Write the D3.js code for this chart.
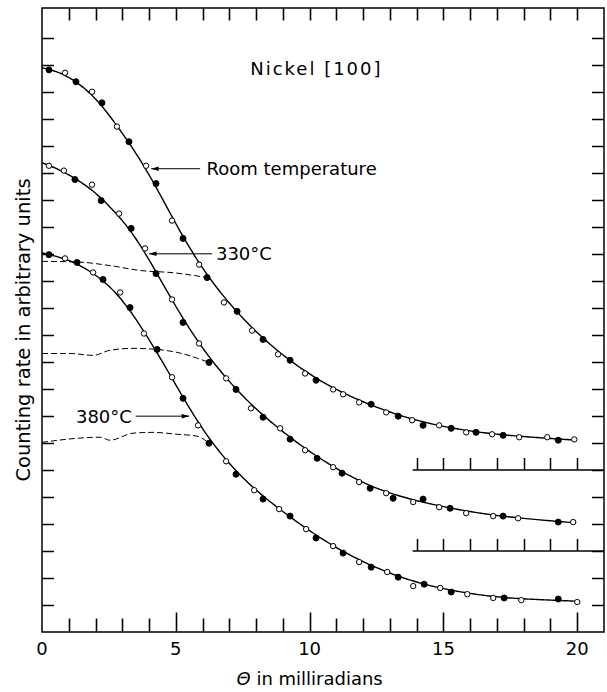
<!DOCTYPE html>
<html lang="en">
<head>
    <meta charset="UTF-8">
    <title>Nickel [100] channeling dips</title>
    <script src="https://d3js.org/d3.v7.min.js"></script>
    <style>
        body { margin: 0; background: #fff; }
        svg { display: block; }
        text {
            font-family: "DejaVu Sans", sans-serif;
            font-size: 18px;
            fill: #000;
        }
        .curve { fill: none; stroke: #000; stroke-width: 1.4px; }
        .bg { fill: none; stroke: #000; stroke-width: 1px; stroke-dasharray: 6 3; }
        .arrow { stroke: #000; stroke-width: 1px; marker-end: url(#head); }
        .frame { fill: none; stroke: #000; stroke-width: 1.5px; }
        .xtk { fill: none; stroke: #000; stroke-width: 1.6px; }
    </style>
</head>
<body>
<svg width="607" height="692"></svg>
<script>
// angle in milliradians, counting rate in arbitrary units (above each curve's own zero)
const rtTheta = [0.26,0.86,1.27,1.87,2.24,2.80,3.25,3.89,4.26,4.86,5.27,5.87,6.17,6.80,7.29,7.85,8.26,8.82,9.27,9.83,
                 10.24,10.88,11.25,11.85,12.30,12.86,13.31,13.83,14.24,14.84,15.29,15.85,16.22,16.82,17.23,17.83,18.88,19.29,19.89];
const rtRate  = [14.81,14.70,14.37,14.00,13.59,12.71,12.15,11.26,10.60,9.23,8.57,7.60,7.12,6.20,5.87,5.16,4.83,4.28,4.06,3.57,
                 3.32,2.98,2.80,2.50,2.43,2.13,1.99,1.84,1.65,1.65,1.54,1.39,1.39,1.32,1.28,1.21,1.21,1.10,1.13];
const rtFilled = [1,0,1,0,1,0,1,0,1,0,1,0,1,0,1,0,1,0,1,0,1,0,0,0,1,0,1,0,1,0,1,0,1,0,1,0,0,1,0];

const t330Theta = [0.26,0.82,1.23,1.87,2.21,2.88,3.33,3.85,4.26,4.86,5.27,5.87,6.24,6.88,7.25,7.81,8.26,8.90,9.27,9.83,
                   10.28,10.88,11.21,11.85,12.26,12.86,13.12,13.87,14.24,14.84,15.25,15.85,16.86,17.23,17.79,19.29,19.85];
const t330Rate  = [14.26,14.08,13.75,13.56,12.97,12.49,11.94,11.20,10.27,9.31,8.46,7.68,6.98,6.39,5.98,5.28,4.95,4.54,4.14,3.73,
                   3.43,3.10,2.88,2.55,2.32,2.14,1.95,1.81,1.92,1.62,1.58,1.40,1.29,1.29,1.21,1.07,1.07];
const t330Filled = [0,0,1,0,1,0,1,0,1,0,1,0,1,0,1,0,1,0,1,0,1,0,1,0,1,0,1,0,1,0,1,0,0,1,0,1,0];

const t380Theta = [0.26,0.86,1.31,1.91,2.28,2.92,3.29,3.81,4.30,4.86,5.27,5.83,6.24,6.88,7.25,7.93,8.26,8.86,9.27,9.87,
                   10.24,10.88,11.25,11.85,12.30,12.90,13.31,13.87,14.28,14.88,15.29,15.89,16.86,17.27,17.91,19.29,20.00];
const t380Rate  = [13.97,13.83,13.68,13.31,13.05,12.57,12.01,11.05,10.46,9.43,8.65,7.65,6.99,6.32,5.84,5.25,4.92,4.55,4.29,3.81,
                   3.48,3.18,2.92,2.59,2.40,2.22,2.03,1.70,1.77,1.63,1.48,1.40,1.26,1.26,1.18,1.22,1.11];
const t380Filled = [1,0,1,0,1,0,1,0,1,0,1,0,1,0,1,0,1,0,1,0,1,0,1,0,1,0,1,0,1,0,1,0,0,1,0,1,0];

// dashed random (background) levels
const rtBgTheta = [0,1.3,2.5,3.7,4.9,6.17];
const rtBgRate  = [7.72,7.70,7.57,7.38,7.30,7.12];
const t330BgTheta = [0,1.05,1.91,2.54,3.40,4.30,5.05,6.24];
const t330BgRate  = [7.31,7.31,7.24,7.43,7.50,7.46,7.35,6.98];
const t380BgTheta = [0,1.31,2.17,2.54,3.40,4.15,5.05,5.79,6.24];
const t380BgRate  = [7.02,7.17,7.21,7.10,7.36,7.39,7.32,7.25,6.99];

const curveNames = ["Room temperature", "330°C", "380°C"];
const curveOffsets = [6, 3, 0];   // vertical shift of each curve's zero
const xTickLabels = [0, 5, 10, 15, 20];

const svg = d3.select("svg");
const x = d3.scaleLinear().domain([0, 21]).range([42, 604]);
const y = d3.scaleLinear().domain([0, 23.1]).range([632, 8]);

const series = [
    {theta: rtTheta, rate: rtRate, filled: rtFilled, bgT: rtBgTheta, bgR: rtBgRate},
    {theta: t330Theta, rate: t330Rate, filled: t330Filled, bgT: t330BgTheta, bgR: t330BgRate},
    {theta: t380Theta, rate: t380Rate, filled: t380Filled, bgT: t380BgTheta, bgR: t380BgRate}
];

// smooth drawn-through curve: local linear fit with a widening gaussian window
function smoothCurve(xs, ys) {
    const end = d3.max(xs);
    return d3.range(0, end + 0.001, 0.1).map(t => {
        const bw = 0.5 + 0.05 * t;
        let sw = 0, sx = 0, sy = 0, sxx = 0, sxy = 0;
        xs.forEach((xi, i) => {
            const w = Math.exp(-0.5 * ((xi - t) / bw) ** 2);
            sw += w; sx += w * xi; sy += w * ys[i];
            sxx += w * xi * xi; sxy += w * xi * ys[i];
        });
        const b = (sw * sxy - sx * sy) / (sw * sxx - sx * sx);
        const a = (sy - b * sx) / sw;
        return [t, a + b * t];
    });
}

const line = d3.line().x(d => x(d[0])).y(d => y(d[1])).curve(d3.curveBasis);
const bgLine = d3.line().x(d => x(d[0])).y(d => y(d[1])).curve(d3.curveMonotoneX);

// frame, zero lines and inward ticks
const snap = v => Math.round(v) + 0.5;
const fr = d3.path();
fr.rect(x(0), y(23.1), x(21) - x(0), y(0) - y(23.1));
d3.range(1, 23).forEach(v => {
    const Y = snap(y(v));
    fr.moveTo(x(0), Y); fr.lineTo(x(0) + 12, Y);
    fr.moveTo(x(21), Y); fr.lineTo(x(21) - 12, Y);
});
curveOffsets.filter(o => o > 0).forEach(o => {
    fr.moveTo(x(13.85), y(o)); fr.lineTo(x(21), y(o));
    d3.range(14, 21).forEach(d => {
        const X = snap(x(d));
        fr.moveTo(X, y(o)); fr.lineTo(X, y(o) - 12);
    });
});
svg.append("path").attr("class", "frame").attr("d", fr.toString());

// ticks on the top and bottom edges, each its own short path
const edgeTicks = [];
d3.range(1, 21).forEach(d => {
    edgeTicks.push({v: d, y0: y(0) - 0.5, len: d % 5 === 0 ? -19 : -13});
    edgeTicks.push({v: d, y0: y(23.1) + 0.5, len: 12});
});
svg.append("g").selectAll("path").data(edgeTicks).join("path")
    .attr("class", "xtk")
    .attr("d", d => "M" + snap(x(d.v)) + "," + d.y0 + "V" + (d.y0 + d.len));

series.forEach((s, i) => {
    const off = curveOffsets[i];
    const pts = s.theta.map((t, j) => [t, s.rate[j] + off, s.filled[j]]);
    svg.append("path").attr("class", "bg")
        .attr("d", bgLine(s.bgT.map((t, j) => [t, s.bgR[j] + off])));
    svg.append("path").attr("class", "curve")
        .attr("d", line(smoothCurve(s.theta, s.rate).map(d => [d[0], d[1] + off])));
    svg.append("g").selectAll("circle").data(pts).join("circle")
        .attr("cx", d => x(d[0])).attr("cy", d => y(d[1]))
        .attr("r", d => d[2] ? 3 : 2.7)
        .attr("fill", d => d[2] ? "#000" : "#fff")
        .attr("stroke", "#000").attr("stroke-width", 1);
});

// arrows and labels
svg.append("defs").append("marker")
    .attr("id", "head").attr("viewBox", "0 -4 10 8")
    .attr("refX", 10).attr("refY", 0)
    .attr("markerWidth", 8).attr("markerHeight", 6)
    .attr("markerUnits", "userSpaceOnUse").attr("orient", "auto")
    .append("path").attr("d", "M0,-3L10,0L0,3Z").attr("fill", "#000");

const notes = [
    {text: curveNames[0], tx: 6.15, lvl: 17.15, from: 5.91, to: 4.08, anchor: "start"},
    {text: curveNames[1], tx: 6.5, lvl: 14.0, from: 6.36, to: 4.0, anchor: "start"},
    {text: curveNames[2], tx: 3.36, lvl: 7.99, from: 3.5, to: 5.5, anchor: "end"}
];
notes.forEach(n => {
    svg.append("line").attr("class", "arrow")
        .attr("x1", x(n.from)).attr("x2", x(n.to))
        .attr("y1", y(n.lvl)).attr("y2", y(n.lvl));
    svg.append("text").attr("x", x(n.tx)).attr("y", y(n.lvl))
        .attr("dy", "0.36em").attr("text-anchor", n.anchor).text(n.text);
});

svg.append("text").attr("x", x(7.78)).attr("y", y(20.85)).attr("dy", "0.36em")
    .attr("letter-spacing", "2px").text("Nickel [100]");

svg.append("text")
    .attr("transform", "translate(23," + ((y(0) + y(23.1)) / 2 + 10) + ") rotate(-90)")
    .attr("text-anchor", "middle").attr("dy", "0.36em")
    .style("font-size", "19.5px")
    .text("Counting rate in arbitrary units");

const xl = svg.append("text").attr("x", x(10)).attr("y", 679)
    .attr("text-anchor", "middle").attr("dy", "0.36em");
xl.append("tspan").attr("font-style", "italic").text("Θ");
xl.append("tspan").text(" in milliradians");

// tick labels
svg.append("g").selectAll("text").data(xTickLabels).join("text")
    .attr("x", d => x(d)).attr("y", y(0) + 17)
    .attr("dy", "0.36em").attr("text-anchor", "middle").text(d => d);
</script>
</body>
</html>
